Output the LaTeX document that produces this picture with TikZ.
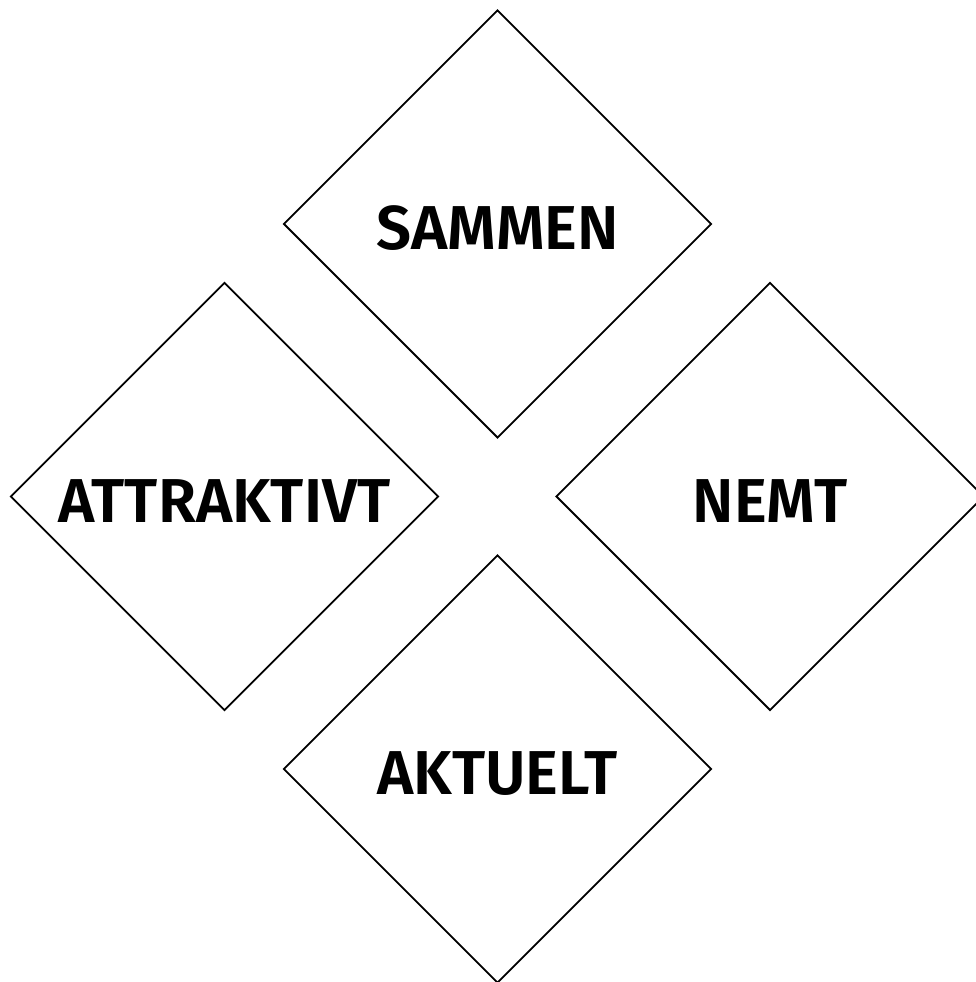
\documentclass[tikz,border=0pt]{standalone}
\usepackage{fontspec}
\setmainfont{Fira Sans}[BoldFont={Fira Sans SemiBold}]
\usetikzlibrary{shapes.geometric}
\begin{document}
\begin{tikzpicture}[x=1pt,y=1pt,
  dia/.style={shape=diamond,draw=black,line width=1.9pt,minimum width=428pt,minimum height=428pt,inner sep=0pt,aspect=1},
  lbl/.style={font=\fontsize{62}{66}\selectfont\bfseries,inner sep=0pt,yshift=-4.5pt}]
\useasboundingbox (0,0) rectangle (975,982);
\node[dia] (sammen) at (497.5,758) {};
\node[dia] (attr) at (224.5,485.5) {};
\node[dia] (nemt) at (770,485.5) {};
\node[dia] (aktuelt) at (497.5,213) {};
\node[lbl] (tsammen) at (sammen.center) {SAMMEN};
\node[lbl] (tattr) at (attr.center) {ATTRAKTIVT};
\node[lbl] (tnemt) at (nemt.center) {NEMT};
\node[lbl] (taktuelt) at (aktuelt.center) {AKTUELT};
\end{tikzpicture}
\end{document}
